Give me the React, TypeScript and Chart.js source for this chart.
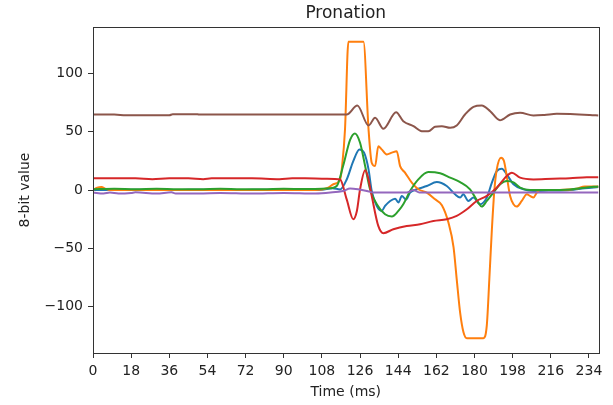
import React, { useEffect, useRef } from "react";
import { Chart, registerables } from "chart.js";

Chart.register(...registerables);

// ---- Data (time in ms) ----
const chartTitle = "Pronation";
const xTickValues = [0, 18, 36, 54, 72, 90, 108, 126, 144, 162, 180, 198, 216, 234];
const yTickValues = [-100, -50, 0, 50, 100];

const blueT = [0, 10, 20, 30, 40, 50, 60, 70, 80, 90, 100, 108, 113, 116.6, 119.7, 122.8, 125.7, 127.9, 130, 131.5, 133.9, 136.2, 137.8, 140.2, 142.5, 144.1, 145.7, 147.7, 149.6, 152.8, 157.5, 162.2, 166.9, 170.8, 173.2, 174.7, 177.1, 179.5, 182.6, 185.8, 188.2, 190.5, 192.9, 195.2, 198.4, 203.1, 207.8, 215, 225, 232, 238.5];
const blueV = [0, 0, 0.3, 0, 0, 0.3, 0, 0, 0.3, 0, 0, 0.3, 1.5, 0.5, 9, 24.8, 34.8, 32, 17.7, -0.8, -13.7, -17.9, -13.7, -9.4, -7.4, -10.8, -5.1, -8.2, -2.2, 0.6, 3.4, 6.8, 3.4, -3.7, -6.5, -3.7, -9.4, -6.5, -12.2, -6.5, 6.3, 16.2, 18.3, 13.4, 4.9, 0.6, -0.8, -0.5, 0, 1.5, 2.5];

const orangeT = [0, 2, 4, 6, 8, 20, 40, 60, 80, 100, 108, 111, 113.4, 116.6, 117.5, 118.9, 120.5, 127.6, 130, 131.5, 133.1, 134.6, 136.2, 138.6, 141, 143.3, 144.9, 147.2, 150.4, 153.5, 157.5, 161.4, 164.6, 167.7, 170.1, 171.6, 173.2, 174.8, 176.4, 184.2, 185.8, 187, 188.2, 189.4, 190.5, 192.5, 193.9, 195.2, 196.8, 198.4, 199.9, 202.3, 204.7, 206.2, 207.8, 209.4, 211, 220, 228, 232, 238.5];
const orangeV = [0, 2, 2.5, 1, 0, 0, 0, 0, 0, 0, 0.5, 2, 4.9, 9.1, 20, 52, 127, 127, 52, 23.4, 20.5, 37.6, 34.8, 30.5, 32, 33.3, 20.5, 14.9, 6.3, 0.6, -2.2, -8, -13, -27.9, -49, -76.3, -104.8, -121.9, -127, -127, -116, -76.3, -33.6, 0.6, 17.7, 27.7, 24.8, 12, -5.1, -12.2, -14.2, -9.4, -3.7, -5.1, -6.5, -2.2, 0, 0, 1, 3, 3];

const greenT = [0, 10, 20, 30, 40, 50, 60, 70, 80, 90, 100, 108, 111.8, 115, 118, 121.3, 123.6, 126, 128.4, 130.7, 133.9, 137.8, 141, 144.1, 146.4, 149.6, 153.5, 158.2, 163.8, 168.5, 173.2, 177.9, 181.8, 183.4, 185.8, 188.9, 192.1, 195.2, 198.4, 201.5, 206.2, 215, 225, 232, 238.5];
const greenV = [0.6, 1, 0.6, 1, 0.6, 0.6, 1, 0.6, 0.6, 1, 0.8, 1, 1.5, 3.4, 20.5, 43, 48.5, 40.5, 20.5, 0.6, -12.2, -20.8, -22.7, -17.9, -12.2, -0.9, 9.1, 15.4, 14.3, 10.6, 6.8, 0.6, -10.8, -14.2, -9.4, -2.2, 4.9, 7.7, 6.5, 2, 0, 0, 0.5, 2, 3];

const redT = [0, 10, 20, 28, 36, 45, 52, 56, 65, 75, 88, 94, 100, 108, 114, 116.6, 119.7, 122.8, 124.5, 126, 128.4, 129.6, 131.5, 134.6, 137, 141.7, 148, 154.3, 160.6, 166.9, 171.6, 176.4, 181, 185.8, 190.5, 195.2, 197.6, 201.5, 207.8, 217, 225, 233, 238.5];
const redV = [10, 10, 10, 9.2, 10, 10, 9.2, 10, 10, 10, 9.2, 10, 10, 9.7, 9.5, 9, -8, -25, -18, 0.6, 17, 12, -5, -30.8, -37, -33.6, -30.8, -29.4, -26.5, -25, -22.2, -16.5, -9.4, -5, 2, 12, 14.8, 10.6, 9.1, 9.7, 10, 11, 11];

const purpleT = [0, 5, 8, 12, 18, 20, 30, 37, 39, 50, 60, 75, 90, 105, 112, 118, 121.3, 125, 129.2, 132.3, 148, 151.2, 154, 170, 190, 210, 238.5];
const purpleV = [-2.2, -3, -2.2, -3, -2.5, -2, -3, -2, -3, -3, -2.5, -3, -2.5, -3, -2.2, -0.8, 1.2, 0.6, -0.8, -2.2, -2.2, 0, -2.2, -2.2, -2.2, -2.2, -2.2];

const brownT = [0, 10, 15.6, 19, 36, 37.6, 48.6, 50, 80, 100, 110, 119.7, 124.7, 130, 133.1, 137, 143, 146.4, 151.2, 155.1, 158.2, 161.4, 164.6, 168.5, 171.6, 175.5, 179.5, 183.4, 187.4, 192, 196.8, 201.5, 207.8, 213, 218.8, 234.5, 238.5];
const brownV = [64.7, 64.7, 64, 64, 64, 65, 65, 64.7, 64.7, 64.7, 64.7, 64.7, 72.4, 55.3, 61.9, 52.5, 66.7, 59, 54.7, 50.4, 50.4, 54.2, 54.7, 53.3, 55.3, 64.7, 71.3, 72.4, 67.5, 59.8, 64.7, 66.2, 63.8, 64.3, 65.3, 64.3, 63.8];

const seriesList = [
  { t: blueT, v: blueV, color: "#1f77b4" },
  { t: orangeT, v: orangeV, color: "#ff7f0e" },
  { t: greenT, v: greenV, color: "#2ca02c" },
  { t: redT, v: redV, color: "#d62728" },
  { t: purpleT, v: purpleV, color: "#9467bd" },
  { t: brownT, v: brownV, color: "#8c564b" },
];

const X_MIN = 0;
const X_MAX = 238.5;
const Y_MIN = -139.7;
const Y_MAX = 139.7;

const FONT = "'DejaVu Sans', sans-serif";
const TEXT = "#222";

const framePlugin = {
  id: "frame",
  afterDatasetsDraw(chart: any) {
    const { ctx, chartArea } = chart;
    ctx.save();
    ctx.strokeStyle = "#333";
    ctx.lineWidth = 1;
    ctx.strokeRect(
      Math.round(chartArea.left) + 0.5,
      Math.round(chartArea.top) + 0.5,
      Math.round(chartArea.right - chartArea.left),
      Math.round(chartArea.bottom - chartArea.top)
    );
    ctx.restore();
  },
  afterDraw(chart: any) {
    const { ctx, chartArea } = chart;
    ctx.save();
    ctx.fillStyle = TEXT;
    ctx.font = "normal 17px " + FONT;
    ctx.textAlign = "center";
    ctx.textBaseline = "middle";
    ctx.fillText(chartTitle, (chartArea.left + chartArea.right) / 2, 13.5);
    ctx.restore();
  },
};

export default function App() {
  const ref = useRef<HTMLCanvasElement | null>(null);

  useEffect(() => {
    document.body.style.margin = "0";
    const canvas = ref.current;
    if (!canvas) return;
    const n = seriesList.length;
    const chart = new Chart(canvas, {
      type: "line",
      data: {
        datasets: seriesList.map((s, i) => ({
          data: s.t.map((t, k) => ({ x: t, y: s.v[k] })),
          borderColor: s.color,
          backgroundColor: s.color,
          borderWidth: 2,
          pointRadius: 0,
          fill: false,
          cubicInterpolationMode: "monotone" as const,
          order: n - 1 - i,
        })),
      },
      options: {
        animation: false,
        responsive: false,
        devicePixelRatio: 1,
        layout: { padding: { left: 0, right: 14.5, top: 27, bottom: 0 } },
        plugins: {
          legend: { display: false },
          tooltip: { enabled: false },
          title: { display: false },
        },
        scales: {
          x: {
            type: "linear",
            min: X_MIN,
            max: X_MAX,
            afterBuildTicks: (scale: any) => {
              scale.ticks = xTickValues.map((v) => ({ value: v }));
            },
            afterFit: (scale: any) => {
              scale.height = 52;
              scale.paddingLeft = 0;
              scale.paddingRight = 0;
            },
            grid: {
              drawOnChartArea: false,
              drawTicks: true,
              tickLength: 5,
              tickColor: "#333",
              tickWidth: 1,
            },
            border: { display: false },
            ticks: {
              color: TEXT,
              font: { family: FONT, size: 14 },
              padding: 5,
              maxRotation: 0,
              autoSkip: false,
              callback: (v: any) => String(v),
            },
            title: {
              display: true,
              text: "Time (ms)",
              color: TEXT,
              font: { family: FONT, size: 14, lineHeight: 1.2 },
              padding: { top: 0, bottom: 4.6 },
            },
          },
          y: {
            type: "linear",
            min: Y_MIN,
            max: Y_MAX,
            afterBuildTicks: (scale: any) => {
              scale.ticks = yTickValues.map((v) => ({ value: v }));
            },
            afterFit: (scale: any) => {
              scale.width = 93;
              scale.paddingTop = 0;
              scale.paddingBottom = 0;
            },
            grid: {
              drawOnChartArea: false,
              drawTicks: true,
              tickLength: 5,
              tickColor: "#333",
              tickWidth: 1,
            },
            border: { display: false },
            ticks: {
              color: TEXT,
              font: { family: FONT, size: 14 },
              padding: 5,
              autoSkip: false,
              callback: (v: any) => (Number(v) < 0 ? "\u2212" + Math.abs(Number(v)) : String(v)),
            },
            title: {
              display: true,
              text: "8-bit value",
              color: TEXT,
              font: { family: FONT, size: 14, lineHeight: 1.2 },
              padding: { top: 16.6, bottom: 0 },
            },
          },
        },
      },
      plugins: [framePlugin],
    });
    return () => chart.destroy();
  }, []);

  return (
    <div style={{ position: "fixed", left: 0, top: 0, width: 613, height: 405, background: "#fff" }}>
      <canvas ref={ref} width={613} height={405} style={{ width: 613, height: 405, display: "block" }} />
    </div>
  );
}
